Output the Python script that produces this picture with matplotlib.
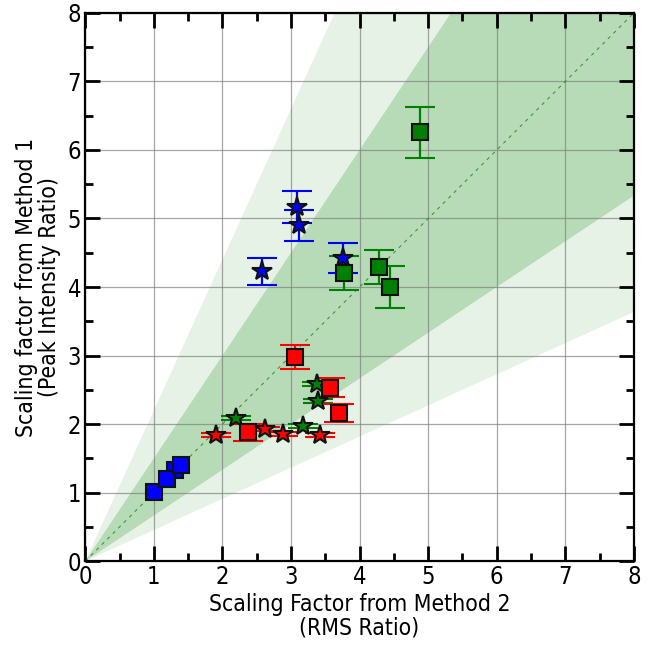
import numpy as np
import matplotlib
matplotlib.use("Agg")
import matplotlib.pyplot as plt
from matplotlib.ticker import MultipleLocator

# scaling factors: x = method 2 (RMS ratio), y = method 1 (peak intensity ratio)
blue_sq_x = [1.31, 1.00, 1.19, 1.40]
blue_sq_y = [1.33, 1.01, 1.20, 1.40]

blue_star_x = [2.57, 3.09, 3.12, 3.76]
blue_star_y = [4.23, 5.17, 4.90, 4.42]
blue_star_err = [0.20, 0.23, 0.23, 0.22]

green_sq_x = [3.77, 4.29, 4.45, 4.88]
green_sq_y = [4.20, 4.29, 4.00, 6.26]
green_sq_err = [0.25, 0.25, 0.31, 0.37]

green_star_x = [2.20, 3.18, 3.38, 3.40]
green_star_y = [2.09, 1.97, 2.58, 2.34]
green_star_err = [0.03, 0.03, 0.03, 0.03]

red_sq_x = [3.06, 2.38, 3.57, 3.70]
red_sq_y = [2.98, 1.88, 2.53, 2.16]
red_sq_err = [0.17, 0.12, 0.14, 0.13]

red_star_x = [1.91, 2.62, 2.89, 3.43]
red_star_y = [1.84, 1.93, 1.85, 1.84]
red_star_err = [0.03, 0.03, 0.03, 0.03]

# agreement bands around y = x
outer_ratio = 2.2
inner_ratio = 1.5

plt.rcParams["font.family"] = ["DejaVu Sans"]
plt.rcParams["font.stretch"] = "condensed"

fig = plt.figure(figsize=(6.61, 6.45), dpi=100)
ax = fig.add_axes([0.129, 0.130, 0.830, 0.850])

xx = np.linspace(0, 8, 200)
ax.fill_between(xx, xx / outer_ratio, xx * outer_ratio, color="green", alpha=0.1, lw=0)
ax.fill_between(xx, xx / inner_ratio, xx * inner_ratio, color="green", alpha=0.2, lw=0)
ax.plot(xx, xx, color="green", lw=0.8, ls=(0, (3, 4)), alpha=0.7)

def points(x, y, err, color, marker, ms):
    ax.errorbar(x, y, yerr=err, fmt=marker, color=color, ms=ms, mec="#111111",
                mew=1.5, ecolor=color, elinewidth=1.6, capsize=11, capthick=1.6,
                zorder=3)

ax.plot(blue_sq_x, blue_sq_y, "s", color="blue", ms=11, mec="#111111", mew=1.5, zorder=3)
points(blue_star_x, blue_star_y, blue_star_err, "blue", "*", 15)
points(green_sq_x, green_sq_y, green_sq_err, "green", "s", 11)
points(green_star_x, green_star_y, green_star_err, "green", "*", 15)
points(red_sq_x, red_sq_y, red_sq_err, "red", "s", 11)
points(red_star_x, red_star_y, red_star_err, "red", "*", 15)

ax.set_xlim(0, 8)
ax.set_ylim(0, 8)
ax.xaxis.set_major_locator(MultipleLocator(1))
ax.yaxis.set_major_locator(MultipleLocator(1))
ax.xaxis.set_minor_locator(MultipleLocator(0.5))
ax.yaxis.set_minor_locator(MultipleLocator(0.5))
ax.grid(True, which="major", color="gray", lw=0.9, alpha=0.7)

ax.tick_params(which="both", direction="in", top=True, right=True, width=2,
               labelsize=17, pad=3)
ax.tick_params(which="major", length=11)
ax.tick_params(which="minor", length=6)
for s in ax.spines.values():
    s.set_linewidth(1.6)

ax.set_xlabel("Scaling Factor from Method 2\n(RMS Ratio)", fontsize=16.5, labelpad=3,
              linespacing=1.0)
ax.set_ylabel("Scaling factor from Method 1\n(Peak Intensity Ratio)", fontsize=16.5,
              labelpad=5, linespacing=1.0)

fig.savefig("out.png", dpi=100)
